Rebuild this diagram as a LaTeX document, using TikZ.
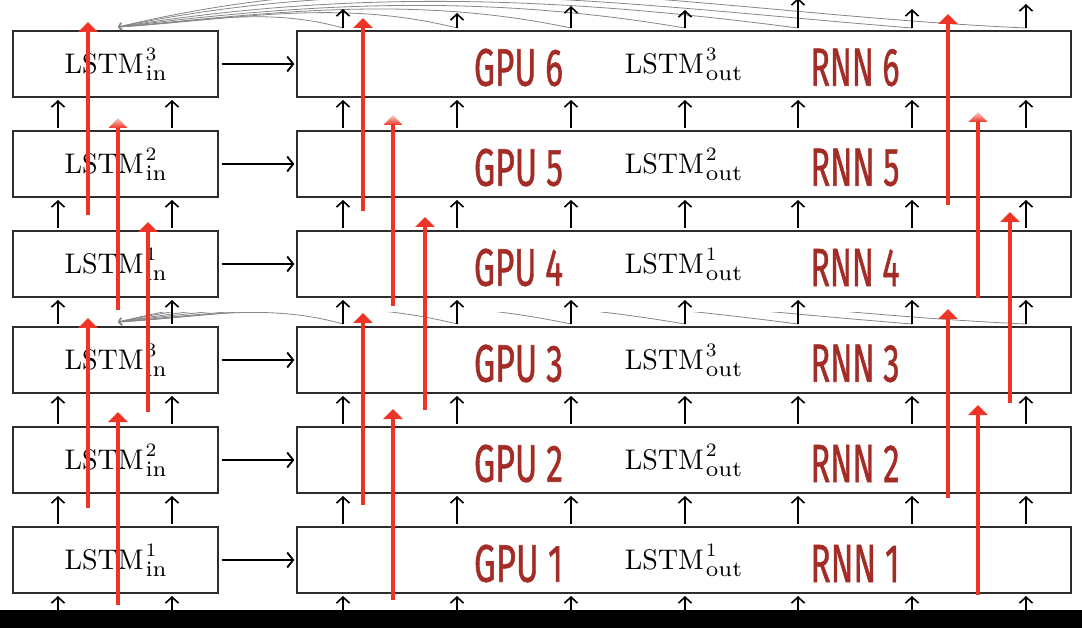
\documentclass[tikz,border=0pt]{standalone}
\usepackage{fontspec}
\usepackage{graphicx}
\newfontfamily\gpufont{Fira Sans}[FakeBold=1.2]
\newfontfamily\lmten{lmroman10-regular}[Extension=.otf]
\newfontfamily\lmseven{lmroman7-regular}[Extension=.otf]
\usetikzlibrary{arrows.meta}
\definecolor{redarr}{RGB}{238,52,36}
\definecolor{gpured}{RGB}{163,45,38}
\definecolor{boxgray}{RGB}{45,45,45}
\definecolor{curvegray}{RGB}{135,135,135}
\newcommand\lstmlab[2]{\resizebox{79pt}{20pt}{\lmten LSTM}\kern2pt\rlap{\raisebox{13pt}{\lmseven\fontsize{19}{22}\selectfont #1}}\raisebox{-7pt}{\lmseven\fontsize{22}{26}\selectfont #2}}
\begin{document}
\begin{tikzpicture}[x=1pt,y=-1pt,
  lbox/.style={draw=boxgray,line width=1.3pt,minimum width=205pt,minimum height=66pt,inner sep=0pt},
  rbox/.style={draw=boxgray,line width=1.3pt,minimum width=774pt,minimum height=66pt,inner sep=0pt},
  blk/.style={-{Straight Barb[length=6pt,width=13pt]},line width=1.6pt,black},
  harr/.style={-{Straight Barb[length=6pt,width=15pt]},line width=1.8pt,black,shorten <=3pt,shorten >=2pt},
  redarrow/.style={-{Triangle[length=10pt,width=19pt]},line width=4pt,redarr},
  redline/.style={line width=4pt,redarr},
  gcurve/.style={-{Straight Barb[length=3pt,width=7pt]},line width=0.8pt,curvegray},
  lstm/.style={font=\fontsize{28}{34}\selectfont,inner sep=0pt},
  gpu/.style={text=gpured,inner sep=0pt}
]
\useasboundingbox (0,0) rectangle (1082,628);
\clip (0,0) rectangle (1082,628);
\fill[white] (0,0) rectangle (1082,628);

% grey feedback curves
\foreach \x/\L/\ha/\hb in {343/78.75/22.1/4.6, 457/118.65/29.7/7.6, 571/158.55/33.3/14.7, 685/198.45/33.7/25, 798/238/30.9/38.4, 912/277.9/22.2/57.8, 1026/317.8/14.3/76.4}{
  \draw[gcurve] (\x,28) .. controls ({\x-\L},{28-\ha}) and ({118+\L},{27-\hb}) .. (118,27);
}
\begin{scope}
\clip (0,313) rectangle (1082,340);
\foreach \x/\L/\ha/\hb in {343/78.75/22.1/4.6, 457/118.65/29.7/7.6, 571/158.55/33.3/14.7, 685/198.45/33.7/25, 798/238/30.9/38.4, 912/277.9/22.2/57.8, 1026/317.8/14.3/76.4}{
  \draw[gcurve] (\x,324) .. controls ({\x-\L},{324-\ha}) and ({118+\L},{322-\hb}) .. (118,322);
}
\end{scope}

% boxes and labels
\foreach \k/\n/\cy in {6/3/64,5/2/164,4/1/264,3/3/360,2/2/460,1/1/560}{
  \node[lbox] (L\k) at (115.5,\cy) {};
  \node[rbox] (R\k) at (684,\cy) {};
  \node[lstm] (LI\k) at (115.5,\cy) {\lstmlab{\n}{in}};
  \node[lstm] (LO\k) at (683.5,\cy) {\lstmlab{\n}{out}};
  \node[gpu] (G\k) at (518.5,\cy+3.5) {\resizebox{89pt}{37pt}{\gpufont GPU \k}};
  \node[gpu] (N\k) at (855,\cy+3.5) {\resizebox{89pt}{37pt}{\gpufont RNN \k}};
  \draw[harr] (L\k) -- (R\k);
}

% vertical black arrows between rows
\foreach \lo/\hi in {640/596,524/496,424/396,324/300,228/200,128/100}{
  \foreach \x in {58,172,343,457,571,685,798,912,1026}{
    \draw[blk] (\x,\lo) -- (\x,\hi);
  }
}
% arrows above the top row
\foreach \x/\t in {343/9,457/13,571/6,685/10,798/-2,912/9,1026/4}{
  \draw[blk] (\x,28) -- (\x,\t);
}

% red arrows
\foreach \x/\b/\t in {88/215/22,148/412/222,88/508/318,118/605/412,
                     363/211/18,425/410/217,363/505/313,393/600/409,
                     948/205/14,1010/403/212,948/498/309,978/595/405}{
  \draw[redarrow] (\x,\b) -- (\x,\t);
}
\foreach \x/\b/\t in {118/310/118,393/306/115,978/298/112}{
  \draw[redline] (\x,\b) -- (\x,\t+9);
  \shade[top color=redarr!25,bottom color=redarr] (\x,\t) -- (\x+9.5,\t+10) -- (\x-9.5,\t+10) -- cycle;
}

\fill[black] (0,610) rectangle (1082,628);
\end{tikzpicture}
\end{document}
